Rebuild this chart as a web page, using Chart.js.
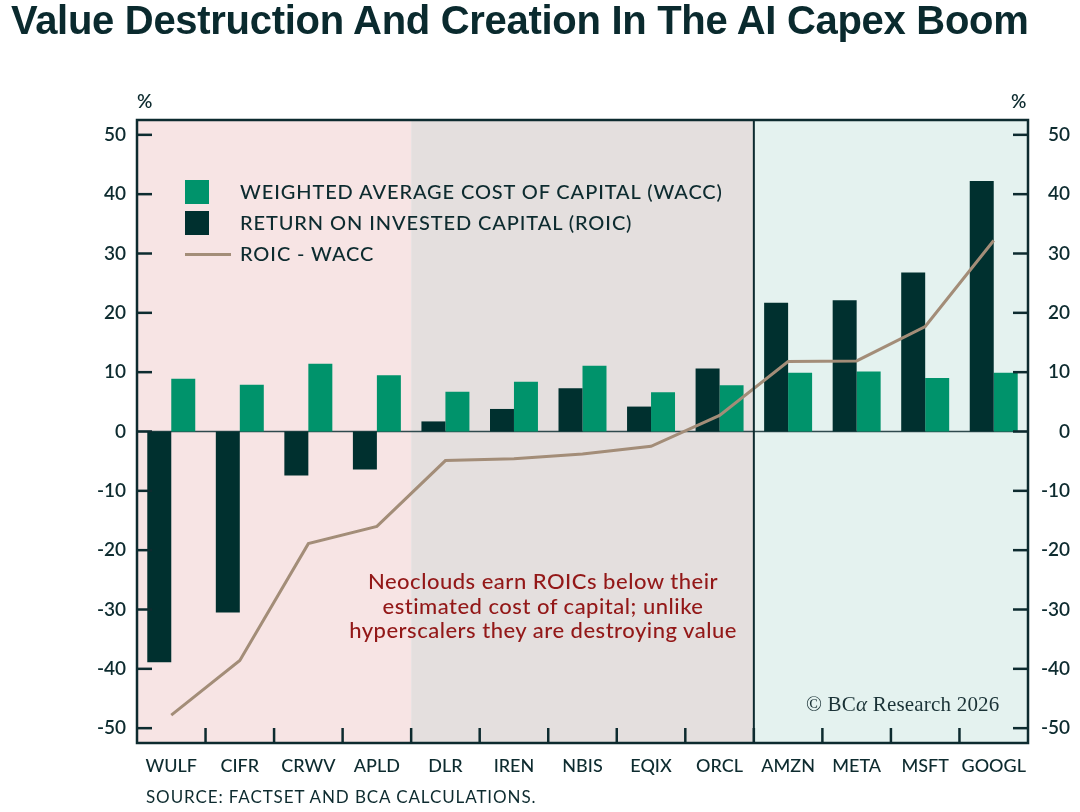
<!DOCTYPE html>
<html><head><meta charset="utf-8">
<script src="https://cdn.jsdelivr.net/npm/chart.js@4.4.1/dist/chart.umd.min.js"></script>
<style>
html,body{margin:0;padding:0;background:#fff;}
#wrap{position:relative;width:1080px;height:812px;overflow:hidden;font-family:Lato,'Open Sans',sans-serif;color:#0d2b2f;}
canvas{position:absolute;left:0;top:0;}
.t{position:absolute;white-space:nowrap;}
.sq{position:absolute;width:24px;height:24px;}
.lg{font-size:20px;letter-spacing:0.9px;font-weight:500;}
</style></head><body>
<div id="wrap">
<canvas id="c" width="1080" height="812" style="width:1080px;height:812px"></canvas>
<div class="t" id="title" style="left:11px;top:-2px;font:bold 40px 'Liberation Sans',Arial,sans-serif;color:#0a2a2e;letter-spacing:-0.3px">Value Destruction And Creation In The AI Capex Boom</div>
<div class="t" style="left:137px;top:89px;font-size:19px;font-weight:600">%</div>
<div class="t" style="left:1011px;top:89px;font-size:19px;font-weight:600">%</div>
<div class="sq" style="left:185px;top:180px;background:#00936B"></div>
<div class="sq" style="left:185px;top:211px;background:#00302F"></div>
<div style="position:absolute;left:185px;top:253px;width:46px;height:3px;background:#A38D78"></div>
<div class="t lg" style="left:240px;top:179px">WEIGHTED AVERAGE COST OF CAPITAL (WACC)</div>
<div class="t lg" style="left:240px;top:210px">RETURN ON INVESTED CAPITAL (ROIC)</div>
<div class="t lg" style="left:240px;top:241px">ROIC - WACC</div>
<div class="t" style="left:293px;top:569px;width:500px;text-align:center;font-size:22px;line-height:24.5px;letter-spacing:0.5px;font-weight:500;color:#931818">Neoclouds earn ROICs below their<br>estimated cost of capital; unlike<br>hyperscalers they are destroying value</div>
<div class="t" style="left:806px;top:692px;font:21px 'Liberation Serif','DejaVu Serif',serif;color:#1a3236;letter-spacing:0.2px">© BC<span style="font-style:italic">α</span> Research 2026</div>
<div class="t" style="left:146px;top:786px;font-size:17px;letter-spacing:0.9px">SOURCE: FACTSET AND BCA CALCULATIONS.</div>
</div>
<script>
const categories = ['WULF','CIFR','CRWV','APLD','DLR','IREN','NBIS','EQIX','ORCL','AMZN','META','MSFT','GOOGL'];
const roic = [-38.9, -30.5, -7.4, -6.4, 1.7, 3.8, 7.3, 4.2, 10.6, 21.7, 22.1, 26.8, 42.2];
const wacc = [8.9, 7.9, 11.4, 9.5, 6.7, 8.4, 11.1, 6.6, 7.8, 9.9, 10.1, 9.0, 9.9];
const spread = [-47.8, -38.6, -18.9, -16.0, -4.9, -4.6, -3.8, -2.5, 2.7, 11.8, 11.9, 17.7, 32.2];
const yTicks = [-50, -40, -30, -20, -10, 0, 10, 20, 30, 40, 50];
const regions = [
  {from:0, to:4, color:'#F7E4E4'},
  {from:4, to:9, color:'#E4DFDE'},
  {from:9, to:13, color:'#E4F2EF'}
];
const dividerAt = 9;

const INK = '#0d2b2f';
function edge(chart, i){
  const a = chart.chartArea, x = chart.scales.x;
  if (i <= 0) return a.left;
  if (i >= categories.length) return a.right;
  return (x.getPixelForValue(i-1) + x.getPixelForValue(i)) / 2;
}
const decor = {
  id:'decor',
  beforeDatasetsDraw(chart){
    const {ctx, chartArea:a, scales:{y}} = chart;
    ctx.save();
    regions.forEach(r => {
      const x0 = edge(chart, r.from), x1 = edge(chart, r.to);
      ctx.fillStyle = r.color;
      ctx.fillRect(x0, a.top, x1 - x0, a.bottom - a.top);
    });
    ctx.strokeStyle = '#2f4a4e';
    ctx.lineWidth = 1.5;
    const y0 = y.getPixelForValue(0);
    ctx.beginPath(); ctx.moveTo(a.left, y0); ctx.lineTo(a.right, y0); ctx.stroke();
    ctx.restore();
  },
  afterDraw(chart){
    const {ctx, chartArea:a, scales:{y}} = chart;
    ctx.save();
    ctx.strokeStyle = INK;
    ctx.lineWidth = 2;
    const xd = edge(chart, dividerAt);
    ctx.beginPath(); ctx.moveTo(xd, a.top); ctx.lineTo(xd, a.bottom); ctx.stroke();
    ctx.lineWidth = 2.5;
    ctx.strokeRect(a.left, a.top, a.right - a.left, a.bottom - a.top);
    yTicks.forEach(v => {
      const py = y.getPixelForValue(v);
      ctx.beginPath(); ctx.moveTo(a.left, py); ctx.lineTo(a.left + 15, py); ctx.stroke();
      ctx.beginPath(); ctx.moveTo(a.right, py); ctx.lineTo(a.right - 15, py); ctx.stroke();
    });
    for (let i = 1; i < categories.length; i++) {
      const px = edge(chart, i);
      ctx.beginPath(); ctx.moveTo(px, a.bottom); ctx.lineTo(px, a.bottom - 15); ctx.stroke();
    }
    ctx.restore();
  }
};

const tickFont = {family:'Lato', size:19, weight:'600'};
new Chart(document.getElementById('c'), {
  type:'bar',
  data:{
    labels: categories,
    datasets:[
      {type:'line', label:'ROIC - WACC', data:spread, borderColor:'#A38D78', borderWidth:3, pointRadius:0, tension:0, fill:false, order:1, yAxisID:'y'},
      {label:'RETURN ON INVESTED CAPITAL (ROIC)', data:roic, backgroundColor:'#00302F', order:2, yAxisID:'y'},
      {label:'WEIGHTED AVERAGE COST OF CAPITAL (WACC)', data:wacc, backgroundColor:'#00936B', order:2, yAxisID:'y'}
    ]
  },
  options:{
    responsive:false, animation:false, devicePixelRatio:1,
    layout:{padding:{top:120, right:10, left:0, bottom:0}},
    datasets:{bar:{categoryPercentage:0.7, barPercentage:1.0}},
    plugins:{legend:{display:false}, tooltip:{enabled:false}},
    scales:{
      x:{
        grid:{display:false, drawTicks:false}, border:{display:false},
        ticks:{color:INK, font:{family:'Lato', size:18, weight:'500'}, padding:12, maxRotation:0, autoSkip:false},
        afterFit(s){ s.height = 69; }
      },
      y:{
        position:'left', min:-52.5, max:52.5,
        grid:{display:false, drawTicks:false}, border:{display:false},
        afterBuildTicks(s){ s.ticks = yTicks.map(v => ({value:v})); },
        ticks:{color:INK, font:tickFont, padding:11, callback:v => String(v)},
        afterFit(s){ s.width = 137; }
      },
      y2:{
        position:'right', min:-52.5, max:52.5,
        grid:{display:false, drawTicks:false}, border:{display:false},
        afterBuildTicks(s){ s.ticks = yTicks.map(v => ({value:v})); },
        ticks:{color:INK, font:tickFont, padding:0, crossAlign:'far', callback:v => String(v)},
        afterFit(s){ s.width = 42; }
      }
    }
  },
  plugins:[decor]
});
</script>
</body></html>
